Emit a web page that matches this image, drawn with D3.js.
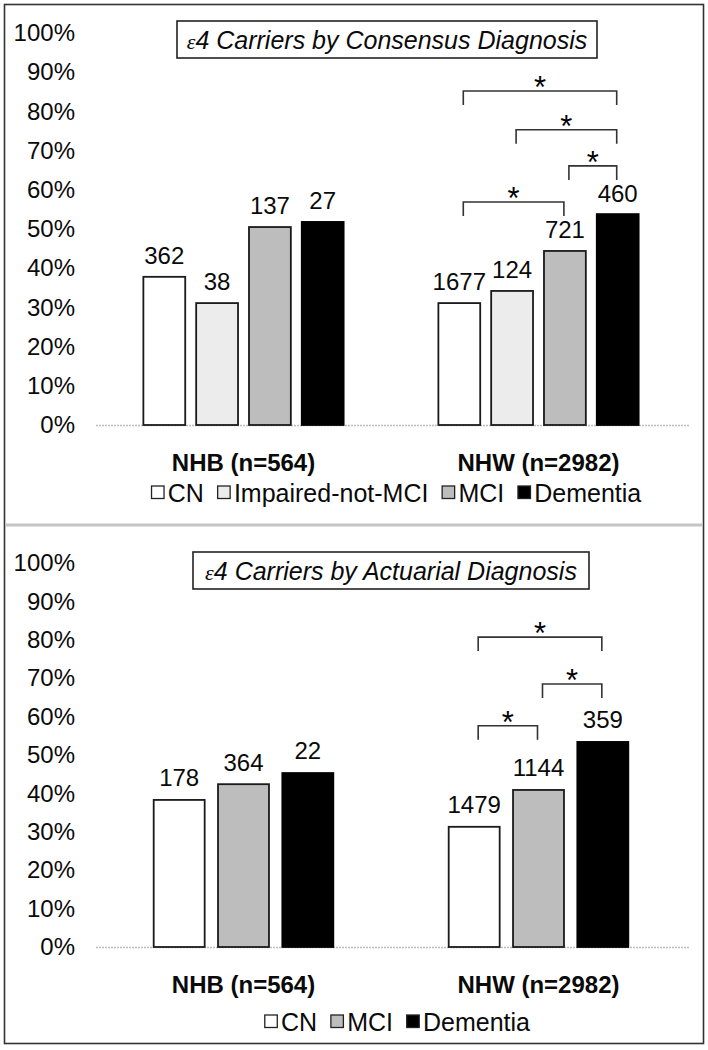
<!DOCTYPE html>
<html>
<head>
<meta charset="utf-8">
<script src="https://cdn.jsdelivr.net/npm/d3@7"></script>
<style>
  html, body { margin: 0; padding: 0; background: #fff; }
  svg { display: block; font-family: "Liberation Sans", Arial, sans-serif; }
</style>
</head>
<body>
<svg id="chart" width="708" height="1050"></svg>
<script>
// ---------------- data ----------------
const groups = ["NHB (n=564)", "NHW (n=2982)"];
const yTickValues = [0, 10, 20, 30, 40, 50, 60, 70, 80, 90, 100];

const consensusCategories = ["CN", "Impaired-not-MCI", "MCI", "Dementia"];
const consensusNHB = [37.8, 31.1, 50.5, 51.8];
const consensusNHW = [31.1, 34.2, 44.4, 53.8];
const consensusCountsNHB = [362, 38, 137, 27];
const consensusCountsNHW = [1677, 124, 721, 460];
const consensusBrackets = [
  { group: "NHW (n=2982)", from: "CN", to: "Dementia", level: 85.2 },
  { group: "NHW (n=2982)", from: "Impaired-not-MCI", to: "Dementia", level: 75.3 },
  { group: "NHW (n=2982)", from: "MCI", to: "Dementia", level: 66.1 },
  { group: "NHW (n=2982)", from: "CN", to: "MCI", level: 56.9 }
];

const actuarialCategories = ["CN", "MCI", "Dementia"];
const actuarialNHB = [38.3, 42.4, 45.3];
const actuarialNHW = [31.3, 40.9, 53.4];
const actuarialCountsNHB = [178, 364, 22];
const actuarialCountsNHW = [1479, 1144, 359];
const actuarialBrackets = [
  { group: "NHW (n=2982)", from: "CN", to: "Dementia", level: 80.7 },
  { group: "NHW (n=2982)", from: "MCI", to: "Dementia", level: 68.5 },
  { group: "NHW (n=2982)", from: "CN", to: "MCI", level: 57.6 }
];

const fills = { "CN": "#ffffff", "Impaired-not-MCI": "#ececec", "MCI": "#bdbdbd", "Dementia": "#000000" };

// ---------------- drawing ----------------
const svg = d3.select("#chart");
const FONT = 24;

// outer frame & separator
svg.append("rect").attr("x", 4.5).attr("y", 4.5).attr("width", 699).attr("height", 1039)
  .attr("fill", "none").attr("stroke", "#333").attr("stroke-width", 1.6);
svg.append("line").attr("x1", 5).attr("x2", 703).attr("y1", 525).attr("y2", 525)
  .attr("stroke", "#c4c4c4").attr("stroke-width", 3);

function drawPanel(o) {
  const g = svg.append("g");
  const x0 = d3.scaleBand().domain(groups).range([96, 686]);
  const x1 = d3.scaleBand().domain(o.categories).range([0, x0.bandwidth()])
    .paddingInner(0.2075).paddingOuter(0.897);
  const y = d3.scaleLinear().domain([0, 100]).range([o.yBase, o.yTop]);

  // y axis labels
  const ax = g.append("g").attr("transform", `translate(${x0.range()[0]},0)`)
    .call(d3.axisLeft(y).tickValues(yTickValues).tickFormat(d => d + "%").tickSize(0).tickPadding(21));
  ax.select(".domain").remove();
  ax.selectAll("text").attr("font-size", FONT).attr("fill", "#0a0a0a")
    .attr("font-family", "Liberation Sans, Arial, sans-serif");

  // baseline
  g.append("line").attr("x1", x0.range()[0]).attr("x2", x0.range()[1] + 3)
    .attr("y1", y(0) + 0.5).attr("y2", y(0) + 0.5)
    .attr("stroke", "#bdbdbd").attr("stroke-width", 1.5).attr("stroke-dasharray", "2,1");

  // bars
  const rows = [];
  groups.forEach((grp, gi) => {
    o.categories.forEach((c, ci) => {
      rows.push({ grp, c, v: o.values[gi][ci], n: o.counts[gi][ci] });
    });
  });
  const bx = d => x0(d.grp) + x1(d.c);
  g.selectAll("rect.bar").data(rows).join("rect").attr("class", "bar")
    .attr("x", bx).attr("width", x1.bandwidth())
    .attr("y", d => y(d.v)).attr("height", d => y(0) - y(d.v))
    .attr("fill", d => fills[d.c])
    .attr("stroke", d => d.c === "Dementia" ? "#000" : "#1a1a1a")
    .attr("stroke-width", 1.8);

  // count labels
  g.selectAll("text.cnt").data(rows).join("text").attr("class", "cnt")
    .attr("x", d => bx(d) + x1.bandwidth() / 2)
    .attr("y", d => y(d.v) - o.labelGap)
    .attr("dy", "0.35em")
    .attr("text-anchor", "middle").attr("font-size", FONT).attr("fill", "#0a0a0a")
    .text(d => d.n);

  // brackets
  const tick = 14;
  o.brackets.forEach(b => {
    const xa = x0(b.group) + x1(b.from) + x1.bandwidth() / 2 + 4;
    const xb = x0(b.group) + x1(b.to) + x1.bandwidth() / 2 - 1;
    const yl = y(b.level);
    g.append("path")
      .attr("d", `M${xa},${yl + tick}V${yl}H${xb}V${yl + tick}`)
      .attr("fill", "none").attr("stroke", "#333").attr("stroke-width", 1.6);
    g.append("text").attr("x", (xa + xb) / 2).attr("y", yl + 7)
      .attr("text-anchor", "middle").attr("font-size", 31).attr("fill", "#000").text("*");
  });

  // category labels
  g.selectAll("text.cat").data(groups).join("text").attr("class", "cat")
    .attr("x", d => x0(d) + x0.bandwidth() / 2).attr("y", o.catY).attr("dy", "0.35em")
    .attr("text-anchor", "middle").attr("font-size", FONT).attr("font-weight", "bold")
    .attr("fill", "#0a0a0a").text(d => d);

  // title box
  g.append("rect").attr("x", o.titleBox[0]).attr("y", o.titleBox[1])
    .attr("width", o.titleBox[2] - o.titleBox[0]).attr("height", o.titleBox[3] - o.titleBox[1])
    .attr("fill", "#fff").attr("stroke", "#222").attr("stroke-width", 1.6);
  const t = g.append("text").attr("x", (o.titleBox[0] + o.titleBox[2]) / 2)
    .attr("y", (o.titleBox[1] + o.titleBox[3]) / 2).attr("dy", "0.36em")
    .attr("text-anchor", "middle").attr("font-size", 25).attr("font-style", "italic").attr("fill", "#0a0a0a");
  t.append("tspan").attr("font-family", "Liberation Serif, Times New Roman, serif").attr("font-size", 22).text("ε");
  t.append("tspan").text(o.title);

  // legend
  const lg = g.append("g");
  let cx = 0;
  const sq = 14;
  o.categories.forEach((c, i) => {
    const it = lg.append("g").attr("transform", `translate(${cx},0)`);
    it.append("rect").attr("x", 0.75).attr("y", -sq / 2).attr("width", sq - 1.5).attr("height", sq - 1.5)
      .attr("fill", fills[c]).attr("stroke", "#222").attr("stroke-width", 1.3);
    const tx = it.append("text").attr("x", sq + 3).attr("dy", "0.35em")
      .attr("font-size", 25).attr("fill", "#0a0a0a").text(c);
    cx += sq + 3 + tx.node().getComputedTextLength() + 13;
  });
  const total = cx - 13;
  lg.attr("transform", `translate(${o.legendCx - total / 2},${o.legendY})`);
}

drawPanel({
  categories: consensusCategories,
  values: [consensusNHB, consensusNHW],
  counts: [consensusCountsNHB, consensusCountsNHW],
  brackets: consensusBrackets,
  yBase: 425, yTop: 33,
  labelGap: 21,
  catY: 463, legendY: 493, legendCx: 396,
  titleBox: [177, 21, 597, 58],
  title: "4 Carriers by Consensus Diagnosis"
});

drawPanel({
  categories: actuarialCategories,
  values: [actuarialNHB, actuarialNHW],
  counts: [actuarialCountsNHB, actuarialCountsNHW],
  brackets: actuarialBrackets,
  yBase: 947, yTop: 563,
  labelGap: 22,
  catY: 985, legendY: 1022, legendCx: 397,
  titleBox: [193, 552, 589, 589],
  title: "4 Carriers by Actuarial Diagnosis"
});
</script>
</body>
</html>
